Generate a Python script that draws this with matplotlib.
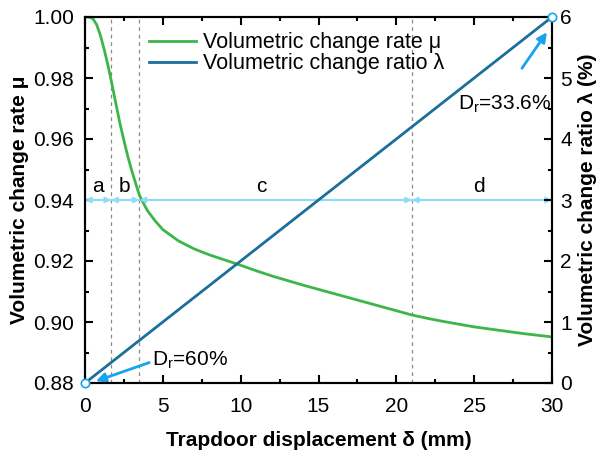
import matplotlib
matplotlib.use('Agg')
from matplotlib import pyplot as plt
from matplotlib.ticker import MultipleLocator
import numpy as np

plt.rcParams['font.family'] = ['Liberation Sans', 'DejaVu Sans']
plt.rcParams['mathtext.fontset'] = 'custom'
plt.rcParams['mathtext.rm'] = 'Liberation Sans'
plt.rcParams['mathtext.it'] = 'Liberation Sans:italic'

# trapdoor displacement (mm) and volumetric change rate
delta = [0, 0.25, 0.5, 0.75, 1.0, 1.25, 1.5, 1.75, 2.0, 2.25, 2.5, 2.75, 3.0,
         3.25, 3.5, 3.75, 4.0, 4.5, 5, 6, 7, 8, 9, 10, 11, 12, 13, 14, 15,
         16, 17, 18, 19, 20, 21, 22, 23, 24, 25, 26, 27, 28, 29, 30]
mu = [1.0000, 0.99995, 0.9995, 0.9975, 0.9938, 0.9890, 0.9836, 0.9775,
      0.9712, 0.9650, 0.9595, 0.9543, 0.9497, 0.9455, 0.9415, 0.9390,
      0.9366, 0.9332, 0.9303, 0.9266, 0.9240, 0.9220, 0.9203, 0.9186,
      0.9168, 0.9151, 0.9136, 0.9121, 0.9107, 0.9093, 0.9079, 0.9065,
      0.9051, 0.9037, 0.9023, 0.9012, 0.9002, 0.8993, 0.8984, 0.8977,
      0.8970, 0.8963, 0.8957, 0.8951]

# volumetric change ratio (%) - linear between the two end states
lam_delta = [0, 30]
lam = [0, 6]

# stage boundaries a|b|c|d
bounds = [0, 1.68, 3.5, 21, 30]
stage_labels = ['a', 'b', 'c', 'd']
stage_label_x = [0.84, 2.55, 11.35, 25.3]
mu_stage = 0.94

c_green = '#3db54a'
c_blue = '#1b6f9a'
c_arrow = '#17a3ee'
c_light = '#8edcf6'

fig = plt.figure(figsize=(6.02, 4.59), dpi=100)
ax = fig.add_axes([85/602, 76/459, 467/602, 366/459])
ax2 = ax.twinx()

l1, = ax.plot(delta, mu, color=c_green, lw=2, label='Volumetric change rate μ')
l2, = ax2.plot(lam_delta, lam, color=c_blue, lw=2, label='Volumetric change ratio λ')
ax2.plot(lam_delta, lam, 'o', ms=6, mfc='white', mec=c_arrow, mew=1.2, clip_on=False, zorder=5)

ax.set_xlim(0, 30)
ax.set_ylim(0.88, 1.00)
ax2.set_ylim(0, 6)

for xb in bounds[1:-1]:
    ax.axvline(xb, color='#8a8a8a', lw=0.9, ls=(0, (3, 3)), zorder=0)

ax.axhline(mu_stage, color=c_light, lw=1.5, zorder=1)
for i in range(len(stage_labels)):
    ax.annotate('', xy=(bounds[i], mu_stage), xytext=(bounds[i+1], mu_stage),
                arrowprops=dict(arrowstyle='<|-|>', color=c_light, lw=1.5,
                                mutation_scale=8, shrinkA=0, shrinkB=0))
    ax.text(stage_label_x[i], mu_stage + 0.0012, stage_labels[i], fontsize=15,
            ha='center', va='bottom')

ax.annotate(r'D$_\mathregular{r}$=60%', xy=(0.7, 0.8806), xytext=(4.3, 0.8856),
            fontsize=15, va='baseline',
            arrowprops=dict(arrowstyle='-|>', color=c_arrow, lw=2,
                            mutation_scale=14, shrinkA=0, shrinkB=0,
                            relpos=(0, 0.45)))
ax2.annotate('', xy=(29.67, 5.75), xytext=(28.07, 5.16),
             arrowprops=dict(arrowstyle='-|>', color=c_arrow, lw=2,
                             mutation_scale=14, shrinkA=0, shrinkB=0))
ax2.text(23.96, 4.48, r'D$_\mathregular{r}$=33.6%', fontsize=15, va='baseline')

ax.xaxis.set_major_locator(MultipleLocator(5))
ax.xaxis.set_minor_locator(MultipleLocator(2.5))
ax.yaxis.set_major_locator(MultipleLocator(0.02))
ax.yaxis.set_minor_locator(MultipleLocator(0.01))
ax.yaxis.set_major_formatter(plt.FormatStrFormatter('%.2f'))
ax2.yaxis.set_major_locator(MultipleLocator(1))
ax2.yaxis.set_minor_locator(MultipleLocator(0.5))

ax.tick_params(which='both', direction='in', top=True, right=False, labelsize=15, width=1.5)
ax.tick_params(which='major', length=6)
ax.tick_params(which='minor', length=3)
ax.tick_params(axis='x', pad=10)
ax.tick_params(axis='y', pad=8)
ax2.tick_params(which='both', direction='in', labelsize=15, width=1.5, pad=6)
ax2.tick_params(which='major', length=6)
ax2.tick_params(which='minor', length=3)
for a in (ax, ax2):
    for s in a.spines.values():
        s.set_linewidth(1.5)

ax.set_xlabel('Trapdoor displacement δ (mm)', fontsize=15, fontweight='bold', labelpad=11)
ax.set_ylabel('Volumetric change rate μ', fontsize=15, fontweight='bold', labelpad=3)
ax2.set_ylabel('Volumetric change ratio λ (%)', fontsize=15, fontweight='bold', labelpad=4)

ax.legend(handles=[l1, l2], loc='upper left', bbox_to_anchor=(0.105, 1.0),
          frameon=False, fontsize=15.5, handlelength=2.2, handletextpad=0.3,
          labelspacing=0.02, borderaxespad=0.3)

fig.savefig('out.png', dpi=100)
